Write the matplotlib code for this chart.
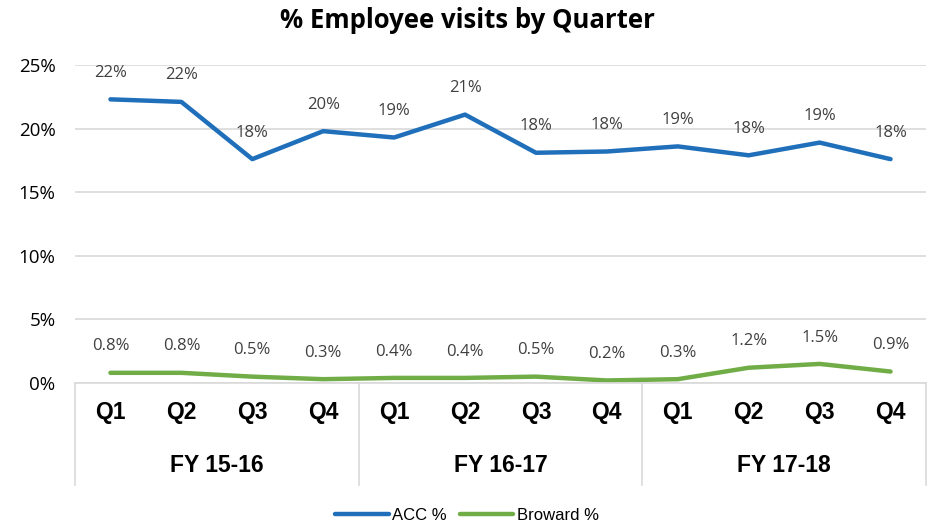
import matplotlib
matplotlib.use("Agg")
import matplotlib.pyplot as plt
import matplotlib.transforms as mtransforms

plt.rcParams["font.family"] = ["Liberation Sans Narrow", "Liberation Sans", "DejaVu Sans"]

quarters = ["Q1", "Q2", "Q3", "Q4"] * 3
years = ["FY 15-16", "FY 16-17", "FY 17-18"]
acc = [22.3, 22.1, 17.6, 19.8, 19.3, 21.1, 18.1, 18.2, 18.6, 17.9, 18.9, 17.6]
broward = [0.8, 0.8, 0.5, 0.3, 0.4, 0.4, 0.5, 0.2, 0.3, 1.2, 1.5, 0.9]

BLUE = "#1f6fba"
GREEN = "#70ad47"
GRID = "#d9d9d9"
TXT = "#404040"
LABEL_FONT = ["Open Sans", "DejaVu Sans"]

fig = plt.figure(figsize=(9.34, 5.28), dpi=100)
ax = fig.add_axes([75/934, 1 - 383/528, 851/934, 318/528])

x = list(range(len(acc)))
ax.plot(x, acc, color=BLUE, lw=3.2, solid_capstyle="round", solid_joinstyle="round", label="ACC %")
ax.plot(x, broward, color=GREEN, lw=3.2, solid_capstyle="round", solid_joinstyle="round", label="Broward %")

for xi, v in zip(x, acc):
    ax.annotate(f"{v:.0f}%", (xi, v), xytext=(0, 19), textcoords="offset points",
                ha="center", va="center", fontsize=12, color=TXT, family=LABEL_FONT)
for xi, v in zip(x, broward):
    ax.annotate(f"{v:.1f}%", (xi, v), xytext=(0, 19), textcoords="offset points",
                ha="center", va="center", fontsize=12, color=TXT, family=LABEL_FONT)

ax.set_xlim(-0.5, 11.5)
ax.set_ylim(0, 25)
ax.set_yticks([0, 5, 10, 15, 20, 25])
ax.set_yticklabels([f"{t}%" for t in [0, 5, 10, 15, 20, 25]], fontsize=13.5, family=LABEL_FONT)
ax.tick_params(axis="y", length=0, pad=14, colors="black")
ax.set_xticks([])
ax.grid(axis="y", color=GRID, lw=1.2)
ax.set_axisbelow(True)
for s in ["top", "right", "left"]:
    ax.spines[s].set_visible(False)
ax.spines["bottom"].set_color(GRID)
ax.spines["bottom"].set_linewidth(1.2)

# two-level category axis: quarters, then fiscal years
trans = mtransforms.blended_transform_factory(ax.transData, ax.transAxes)
for xi, q in zip(x, quarters):
    ax.text(xi, -30/318, q, transform=trans, ha="center", va="center",
            fontsize=16.5, fontweight="bold", color="black")
for i, yr in enumerate(years):
    ax.text(4*i + 1.5, -83/318, yr, transform=trans, ha="center", va="center",
            fontsize=16.5, fontweight="bold", color="black")
for sep in [-0.5, 3.5, 7.5, 11.5]:
    ax.plot([sep, sep], [0, -102/318], transform=trans, color=GRID, lw=1.2, clip_on=False)

fig.suptitle("% Employee visits by Quarter", y=1 - 20/528, va="center",
             fontsize=18.5, fontweight="bold", family=LABEL_FONT)

fig.legend(loc="center", bbox_to_anchor=(0.5, 1 - 515/528), ncol=2, frameon=False,
           fontsize=12, handlelength=3.2, columnspacing=0.8, handletextpad=0.2)

fig.savefig("out.png", dpi=100, facecolor="white")
